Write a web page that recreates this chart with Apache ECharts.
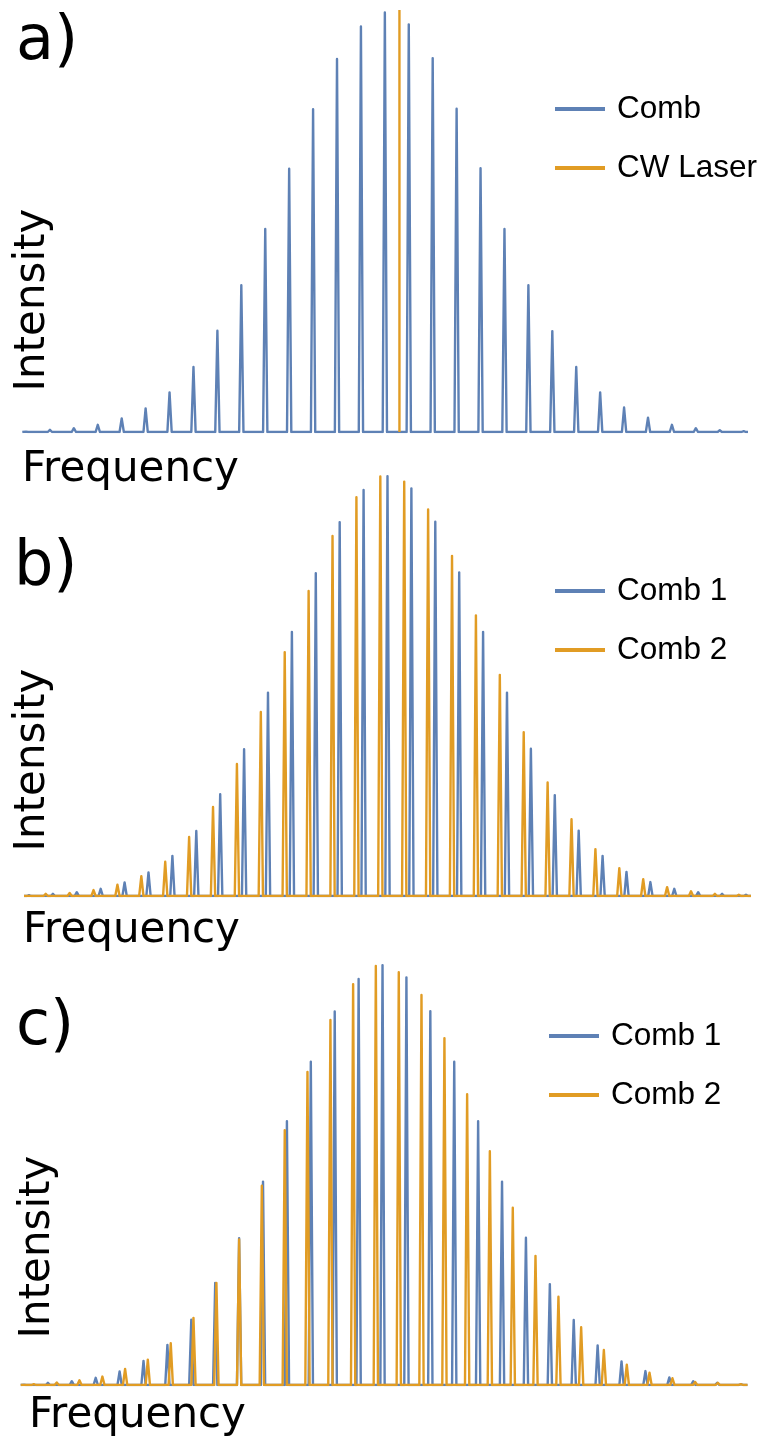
<!DOCTYPE html>
<html>
<head>
<meta charset="utf-8">
<script src="https://cdn.jsdelivr.net/npm/echarts@6/dist/echarts.min.js"></script>
<style>
  html, body { margin: 0; padding: 0; background: #ffffff; }
  #chart { width: 764px; height: 1437px; }
</style>
</head>
<body>
<div id="chart"></div>
<script>
// Frequency in units of the comb-1 mode spacing, intensity normalised to 100.

// a) single comb with a CW laser line
const combAPos = [0, 1, 2, 3, 4, 5, 6, 7, 8, 9, 10, 11, 12, 13, 14, 15, 16, 17, 18, 19, 20, 21, 22, 23, 24, 25, 26, 27, 28, 29, 30];
const combAHeight = [0.1, 0.5, 0.9, 1.7, 3.2, 5.6, 9.4, 15.4, 24.0, 34.8, 48.1, 62.4, 76.5, 88.4, 96.1, 99.4, 96.6, 88.6, 76.6, 62.5, 48.1, 34.8, 23.9, 15.4, 9.4, 5.8, 3.4, 1.7, 0.9, 0.4, 0.2];
const cwLaserPos = [15.61];
const cwLaserHeight = [100];

// b) two combs with equal spacing, offset in frequency
const combB1Pos = [0, 1, 2, 3, 4, 5, 6, 7, 8, 9, 10, 11, 12, 13, 14, 15, 16, 17, 18, 19, 20, 21, 22, 23, 24, 25, 26, 27, 28, 29, 30];
const combB1Height = [0.2, 0.5, 0.9, 1.7, 3.2, 5.6, 9.5, 15.4, 24.1, 34.8, 48.2, 62.6, 76.5, 88.6, 96.2, 99.5, 96.6, 88.7, 76.7, 62.6, 48.2, 34.9, 23.9, 15.5, 9.5, 5.7, 3.3, 1.7, 0.9, 0.5, 0.3];
const combB2Pos = [0.70, 1.70, 2.70, 3.70, 4.70, 5.70, 6.70, 7.70, 8.70, 9.70, 10.70, 11.70, 12.70, 13.70, 14.70, 15.70, 16.70, 17.70, 18.70, 19.70, 20.70, 21.70, 22.70, 23.70, 24.70, 25.70, 26.70, 27.70, 28.70, 29.70];
const combB2Height = [0.5, 0.7, 1.4, 2.7, 4.7, 8.1, 14.0, 21.1, 31.3, 43.6, 57.8, 72.3, 85.3, 94.5, 99.4, 98.2, 91.6, 80.6, 66.5, 52.4, 38.8, 26.9, 18.2, 11.1, 6.6, 4.0, 2.1, 1.1, 0.5, 0.3];

// c) two combs with slightly different spacing
const combC1Pos = [0, 1, 2, 3, 4, 5, 6, 7, 8, 9, 10, 11, 12, 13, 14, 15, 16, 17, 18, 19, 20, 21, 22, 23, 24, 25, 26, 27, 28, 29, 30];
const combC1Height = [0.1, 0.5, 0.9, 1.7, 3.2, 5.7, 9.5, 15.5, 24.2, 34.8, 48.2, 62.5, 76.6, 88.5, 96.2, 99.5, 96.6, 88.6, 76.6, 62.5, 48.2, 34.9, 23.9, 15.4, 9.4, 5.6, 3.3, 1.8, 0.9, 0.5, 0.2];
const combC2Pos = [0.41, 1.37, 2.32, 3.28, 4.23, 5.18, 6.14, 7.09, 8.05, 9.00, 9.95, 10.91, 11.86, 12.82, 13.77, 14.72, 15.68, 16.63, 17.59, 18.54, 19.49, 20.45, 21.40, 22.36, 23.31, 24.26, 25.22, 26.17, 27.13, 28.08, 29.03, 29.99];
const combC2Height = [0.2, 0.6, 1.1, 2.0, 3.8, 6.0, 9.9, 15.9, 24.2, 34.5, 47.2, 60.4, 74.2, 86.5, 95.0, 99.3, 97.8, 92.4, 82.2, 68.9, 55.4, 42.0, 30.6, 20.9, 13.7, 8.3, 4.8, 2.9, 1.6, 0.7, 0.5, 0.2];

const BLUE = '#5E81B5';
const ORANGE = '#E19C24';

// Turns a list of comb lines into a continuous trace: flat baseline with a
// narrow spike of the given height at each line position.
function spectrum(pos, height, lo, hi, halfWidth) {
  const pts = [[lo, 0]];
  for (let i = 0; i < pos.length; i++) {
    const x = pos[i];
    if (x < lo || x > hi) continue;
    pts.push([Math.max(lo, x - halfWidth), 0]);
    pts.push([x, height[i]]);
    pts.push([Math.min(hi, x + halfWidth), 0]);
  }
  pts.push([hi, 0]);
  return pts;
}

const panels = [
  { top: 10,  left: 22.3, right: 16,   min: -0.155, max: 30.18 },
  { top: 474, left: 24,   right: 13,   min: -0.209, max: 30.21 },
  { top: 963, left: 20.7, right: 16.5, min: -0.138, max: 30.27 }
];
const HW = 0.09;

const grid = panels.map(p => ({ left: p.left, right: p.right, top: p.top, height: 422 }));
const xAxis = panels.map((p, i) => ({
  type: 'value', gridIndex: i, min: p.min, max: p.max, show: false
}));
const yAxis = panels.map((p, i) => ({
  type: 'value', gridIndex: i, min: 0, max: 100, show: false
}));

function lineSeries(name, idx, color, data) {
  return {
    name: name, type: 'line', xAxisIndex: idx, yAxisIndex: idx,
    data: data, showSymbol: false, symbol: 'none', silent: true,
    color: color,
    lineStyle: { color: color, width: 2.4, join: 'round' },
    animation: false
  };
}

const series = [
  lineSeries('Comb', 0, BLUE, spectrum(combAPos, combAHeight, panels[0].min, panels[0].max, HW)),
  lineSeries('CW Laser', 0, ORANGE, [[cwLaserPos[0], 0], [cwLaserPos[0], cwLaserHeight[0]]]),
  lineSeries('Comb 1', 1, BLUE, spectrum(combB1Pos, combB1Height, panels[1].min, panels[1].max, HW)),
  lineSeries('Comb 2', 1, ORANGE, spectrum(combB2Pos, combB2Height, panels[1].min, panels[1].max, HW)),
  lineSeries('Comb 1', 2, BLUE, spectrum(combC1Pos, combC1Height, panels[2].min, panels[2].max, HW)),
  lineSeries('Comb 2', 2, ORANGE, spectrum(combC2Pos, combC2Height, panels[2].min, panels[2].max, HW))
];

const legendText = { fontFamily: 'Liberation Sans', fontSize: 31.5, color: '#000000', padding: [0, 0, 0, 7] };
function legend(names, left, top) {
  return {
    data: names, left: left, top: top, orient: 'vertical',
    icon: 'rect', itemWidth: 50, itemHeight: 4, itemGap: 27,
    selectedMode: false, padding: 0,
    textStyle: legendText
  };
}

const labelFont = '42px "DejaVu Sans"';
const tagFont = '62px "DejaVu Sans"';
function text(str, x, y, font, align, rot) {
  return {
    type: 'text', x: x, y: y, rotation: rot || 0, silent: true,
    style: { text: str, font: font, fill: '#000000', textAlign: align, textVerticalAlign: 'middle' }
  };
}

const graphic = [
  text('a)', 16, 43, tagFont, 'left'),
  text('Intensity', 33, 300, labelFont, 'center', Math.PI / 2),
  text('Frequency', 22, 470, labelFont, 'left'),
  text('b)', 14, 568, tagFont, 'left'),
  text('Intensity', 33, 760, labelFont, 'center', Math.PI / 2),
  text('Frequency', 23, 931, labelFont, 'left'),
  text('c)', 16, 1028, tagFont, 'left'),
  text('Intensity', 38, 1247, labelFont, 'center', Math.PI / 2),
  text('Frequency', 29, 1416, labelFont, 'left')
];

const chart = echarts.init(document.getElementById('chart'), null, { renderer: 'canvas' });
chart.setOption({
  backgroundColor: '#ffffff',
  animation: false,
  grid: grid,
  xAxis: xAxis,
  yAxis: yAxis,
  legend: [
    legend(['Comb', 'CW Laser'], 555, 93),
    legend(['Comb 1', 'Comb 2'], 555, 575),
    legend(['Comb 1', 'Comb 2'], 549, 1020)
  ],
  graphic: graphic,
  series: series
});
</script>
</body>
</html>
